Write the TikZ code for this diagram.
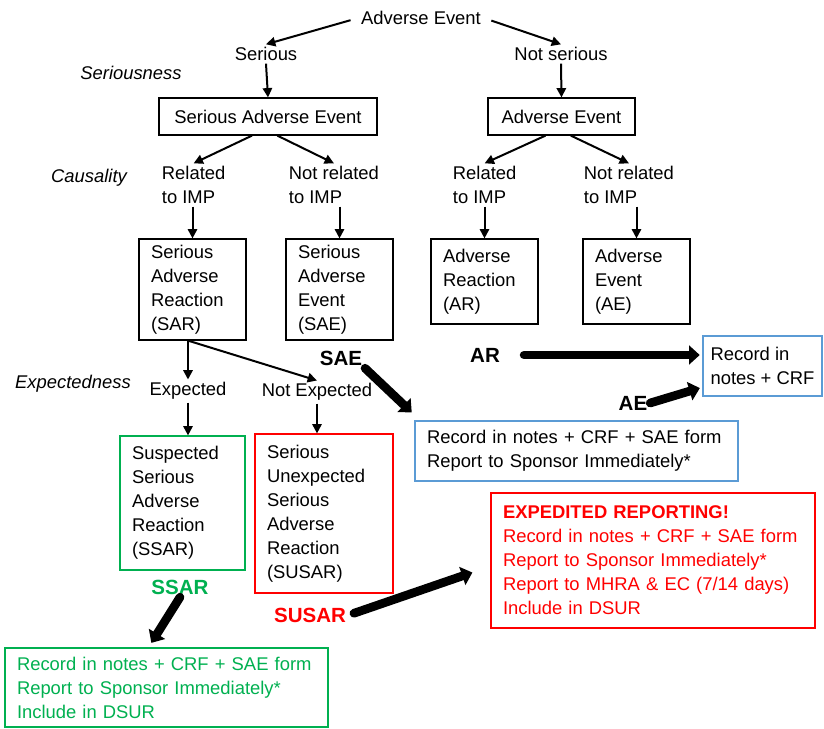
\documentclass[tikz,border=0pt]{standalone}
\usepackage{fontspec}
\setmainfont{Liberation Sans}
\usetikzlibrary{arrows.meta}
\definecolor{okgreen}{HTML}{00B050}
\definecolor{alertred}{HTML}{FF0000}
\definecolor{boxblue}{HTML}{5B9BD5}
\tikzset{
  every node/.style = {font=\fontsize{13.8}{18}\selectfont},
  lbl/.style = {inner sep=2pt},
  lblleft/.style = {align=left, anchor=west, inner sep=2pt},
  tag/.style = {font=\fontsize{13.8}{18}\selectfont\itshape},
  big/.style = {font=\fontsize{15.4}{18}\selectfont\bfseries, inner sep=2pt},
  ebox/.style = {draw, line width=0.9pt, align=left, inner xsep=9pt, inner ysep=0pt},
  thin/.style = {line width=1.5pt, -{Triangle[length=7pt,width=7pt]}},
  fat/.style = {line width=6.5pt, line cap=round, -{Triangle[length=8pt,width=14pt]}}
}

\begin{document}
\begin{tikzpicture}[x=0.75pt,y=-0.75pt]
  \useasboundingbox (0,0) rectangle (824,728);

  % seriousness
  \node[lbl] (ae) at (421,18) {Adverse Event};
  \node[lbl] (ser) at (266,54) {Serious};
  \node[lbl] (nser) at (561,54) {Not serious};
  \node[tag] (seriousness) at (131,73) {Seriousness};
  \node[ebox, minimum width=163.5pt, minimum height=27.75pt] (saetop) at (268,116.5) {Serious Adverse Event};
  \node[ebox, minimum width=110.25pt, minimum height=27.75pt] (aetop) at (561.5,116.5) {Adverse Event};

  % causality
  \node[tag] (causality) at (89,178) {Causality};
  \node[lblleft] (rel1) at (159,185) {Related\\to IMP};
  \node[lblleft] (nrel1) at (286,185) {Not related\\to IMP};
  \node[lblleft] (rel2) at (450,185) {Related\\to IMP};
  \node[lblleft] (nrel2) at (581,185) {Not related\\to IMP};
  \node[ebox, text width=62.25pt, minimum height=75.75pt] (sar) at (192.5,289.5) {Serious\\Adverse\\Reaction\\(SAR)};
  \node[ebox, text width=62.25pt, minimum height=75.75pt] (saeb) at (339.5,289.5) {Serious\\Adverse\\Event\\(SAE)};
  \node[ebox, text width=62.25pt, minimum height=63.75pt] (ar) at (484.5,281.5) {Adverse\\Reaction\\(AR)};
  \node[ebox, text width=62.25pt, minimum height=63.75pt] (aeb) at (636.5,281.5) {Adverse\\Event\\(AE)};

  % expectedness
  \node[tag] (expectedness) at (73,384) {Expectedness};
  \node[lbl] (expd) at (188,391) {Expected};
  \node[lbl] (nexp) at (317,392) {Not Expected};
  \node[ebox, draw=okgreen, text width=75.75pt, minimum height=100.5pt] (ssar) at (182.5,503) {Suspected\\Serious\\Adverse\\Reaction\\(SSAR)};
  \node[ebox, draw=alertred, text width=85.5pt, minimum height=119.25pt] (susar) at (324,513.5) {Serious\\Unexpected\\Serious\\Adverse\\Reaction\\(SUSAR)};

  % reporting
  \node[big] (saelbl) at (341,358) {SAE};
  \node[big] (arlbl) at (485,355) {AR};
  \node[big] (aelbl) at (633,403) {AE};
  \node[big, text=okgreen] (ssarlbl) at (180,587) {SSAR};
  \node[big, text=alertred] (susarlbl) at (310,615) {SUSAR};
  \node[ebox, draw=boxblue, text width=224.25pt, minimum height=45pt] (saerep) at (576.5,451) {Record in notes + CRF + SAE form\\Report to Sponsor Immediately*};
  \node[ebox, draw=boxblue, inner xsep=4pt, minimum width=89.25pt, minimum height=45pt] (rec) at (762.5,366) {Record in\\notes + CRF};
  \node[ebox, draw=alertred, text=alertred, text width=225pt, minimum height=101.25pt] (exped) at (653,560.5) {\textbf{EXPEDITED REPORTING!}\\Record in notes + CRF + SAE form\\Report to Sponsor Immediately*\\Report to MHRA \& EC (7/14 days)\\Include in DSUR};
  \node[ebox, draw=okgreen, text=okgreen, text width=224.25pt, minimum height=59.25pt] (ssarrep) at (166.5,687.5) {Record in notes + CRF + SAE form\\Report to Sponsor Immediately*\\Include in DSUR};

  \draw[thin, shorten <=6pt] (ae.west) -- (ser.north);
  \draw[thin, shorten <=6pt] (ae.east) -- (nser.north);
  \draw[thin] (ser.south) -- (saetop.north);
  \draw[thin] (nser.south) -- (aetop.north);
  \draw[thin] ([xshift=-12pt]saetop.south) -- (rel1.north);
  \draw[thin] ([xshift=7pt]saetop.south) -- (nrel1.north);
  \draw[thin] ([xshift=-12pt]aetop.south) -- (rel2.north);
  \draw[thin] ([xshift=7pt]aetop.south) -- (nrel2.north);
  \draw[thin] (rel1.south -| sar.north) -- (sar.north);
  \draw[thin] (nrel1.south -| saeb.north) -- (saeb.north);
  \draw[thin] (rel2.south -| ar.north) -- (ar.north);
  \draw[thin] (nrel2.south -| aeb.north) -- (aeb.north);
  \draw[thin] (expd.north |- sar.south) -- (expd.north);
  \draw[thin] (expd.north |- sar.south) -- (nexp.north);
  \draw[thin] (expd.south) -- (expd.south |- ssar.north);
  \draw[thin] (nexp.south) -- (nexp.south |- susar.north);

  \draw[fat] (saelbl.south east) -- ([xshift=-2pt,yshift=6pt]saerep.north west);
  \draw[fat, shorten <=16pt, shorten >=2pt] (arlbl.east) -- (arlbl.east -| rec.west);
  \draw[fat, shorten >=2pt] (aelbl.east) -- ([yshift=7pt]rec.south west);
  \draw[fat, shorten >=4pt] (ssarlbl.south) -- ([xshift=-13.5pt]ssarrep.north);
  \draw[fat, shorten <=4pt] (susarlbl.east) -- ([xshift=-13.5pt,yshift=-9pt]exped.west);
\end{tikzpicture}
\end{document}
